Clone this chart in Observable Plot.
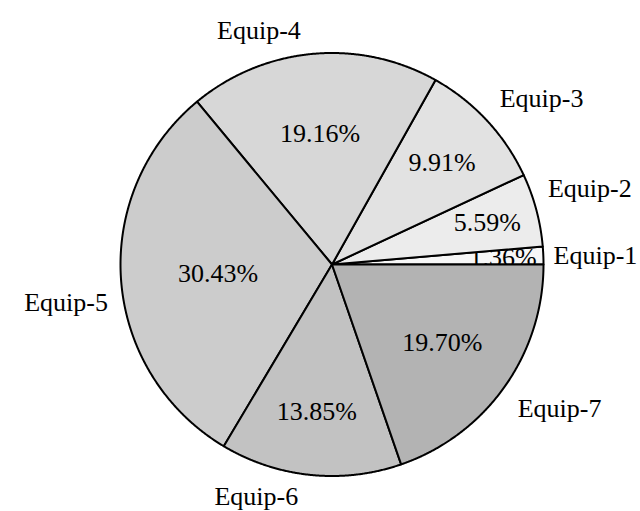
<!DOCTYPE html>
<html><head><meta charset="utf-8">
<script src="https://cdn.jsdelivr.net/npm/d3@7"></script>
<script src="https://cdn.jsdelivr.net/npm/@observablehq/plot@0.6"></script>
<style>html,body{margin:0;padding:0;background:#fff;}</style>
</head><body><div id="chart"></div>
<script>
// ---- data ----
const categories = ["Equip-1", "Equip-2", "Equip-3", "Equip-4", "Equip-5", "Equip-6", "Equip-7"];
const shares = [1.36, 5.59, 9.91, 19.16, 30.43, 13.85, 19.70];

// ---- styles / layout ----
const fills = ["#f7f7f7", "#ececec", "#e2e2e2", "#d7d7d7", "#cccccc", "#c2c2c2", "#b3b3b3"];
const pctRadius = [0.81, 0.76, 0.71, 0.62, 0.54, 0.70, 0.64];
const nameNudge = [[31, 1], [33, -16], [39, -8], [-52, -2], [-34, 20], [-52, 1], [38, 9]];
const font = "'Liberation Serif', 'Times New Roman', serif";

const total = d3.sum(shares);
let cum = 0;
const slices = categories.map((name, i) => {
  const a0 = cum / total * 2 * Math.PI;
  cum += shares[i];
  const a1 = cum / total * 2 * Math.PI;
  const n = Math.max(2, Math.ceil((a1 - a0) / (Math.PI / 720)));
  const pts = [{x: 0, y: 0}];
  for (let k = 0; k <= n; k++) {
    const a = a0 + (a1 - a0) * k / n;
    pts.push({x: Math.cos(a), y: Math.sin(a)});
  }
  pts.push({x: 0, y: 0});
  const mid = (a0 + a1) / 2;
  return {name, value: shares[i], i, mid, pts};
});

const pct = s => ({x: pctRadius[s.i] * Math.cos(s.mid), y: pctRadius[s.i] * Math.sin(s.mid), text: s.value.toFixed(2) + "%"});
const lab = s => ({x: 1.1 * Math.cos(s.mid), y: 1.1 * Math.sin(s.mid), text: s.name});

const sliceMark = s => Plot.line(s.pts, {x: "x", y: "y", fill: fills[s.i], stroke: "black", strokeWidth: 2, strokeLinejoin: "round"});
const textOpts = {x: "x", y: "y", text: "text", fontSize: 26, fontFamily: font, fill: "black"};

const marks = [];
marks.push(sliceMark(slices[0]));
marks.push(Plot.text([pct(slices[0])], textOpts));
for (const s of slices.slice(1)) marks.push(sliceMark(s));
for (const s of slices.slice(1)) marks.push(Plot.text([pct(s)], textOpts));
for (const s of slices) marks.push(Plot.text([lab(s)], {...textOpts, dx: nameNudge[s.i][0], dy: nameNudge[s.i][1]}));

const chart = Plot.plot({
  width: 640, height: 511,
  margin: 0,
  x: {axis: null, domain: [-1.5674, 1.4586]},
  y: {axis: null, domain: [-1.1678, 1.2482]},
  style: {fontFamily: font, background: "white"},
  marks
});
document.getElementById("chart").appendChild(chart);
</script>
</body></html>
